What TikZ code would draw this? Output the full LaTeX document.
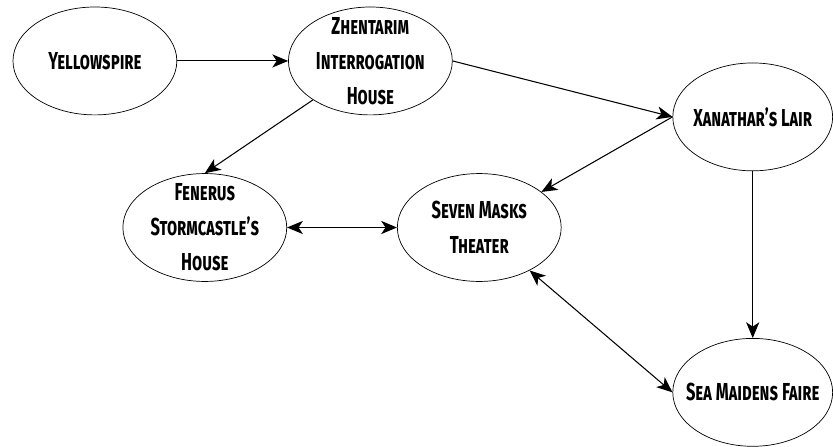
\documentclass[tikz,border=0pt]{standalone}
\usepackage{fontspec}
\setmainfont[FakeStretch=0.67]{Fira Sans}
\usepackage{tikz}
\usetikzlibrary{positioning, shapes.geometric, arrows.meta}

\tikzset{
  place/.style={draw, ellipse, minimum width=3.28cm, minimum height=2.16cm,
    inner xsep=-0.5cm, inner ysep=-0.2cm, align=center,
    font={\fontsize{14}{20}\selectfont\bfseries\scshape}},
  arr/.style={-{Stealth[length=9pt, width=7.5pt, inset=2.5pt]}, semithick},
  twoway/.style={{Stealth[length=9pt, width=7.5pt, inset=2.5pt]}-{Stealth[length=9pt, width=7.5pt, inset=2.5pt]}, semithick}
}

\begin{document}
\begin{tikzpicture}
  \node[place]     (Y)  {Yellowspire};
  \node[place, right=2.22cm of Y]     (Z)  {Zhentarim\\Interrogation\\House};
  \node[place, minimum width=3.2cm, right=4.4cm of Z, yshift=-1.12cm]     (X)  {Xanathar's Lair};
  \node[place, below=1.16cm of Z, xshift=2.18cm]     (M)  {Seven Masks\\Theater};
  \node[place, left=2.2cm of M]     (F)  {Fenerus\\Stormcastle's\\House};
  \node[place, minimum width=3.2cm, below=3.34cm of X]     (S)  {Sea Maidens Faire};

  \useasboundingbox ([shift={(-1.9cm,1.22cm)}]Y.center) rectangle ([shift={(14.76cm,-7.7cm)}]Y.center);

  \draw[arr] (Y) -- (Z);
  \draw[arr] (Z.east) -- (X.west);
  \draw[arr] (Z) -- (F.north);
  \draw[twoway] (F) -- (M);
  \draw[arr] (X.west) -- (M);
  \draw[twoway] (M) -- (S.west);
  \draw[arr] (X) -- (S);
\end{tikzpicture}
\end{document}
